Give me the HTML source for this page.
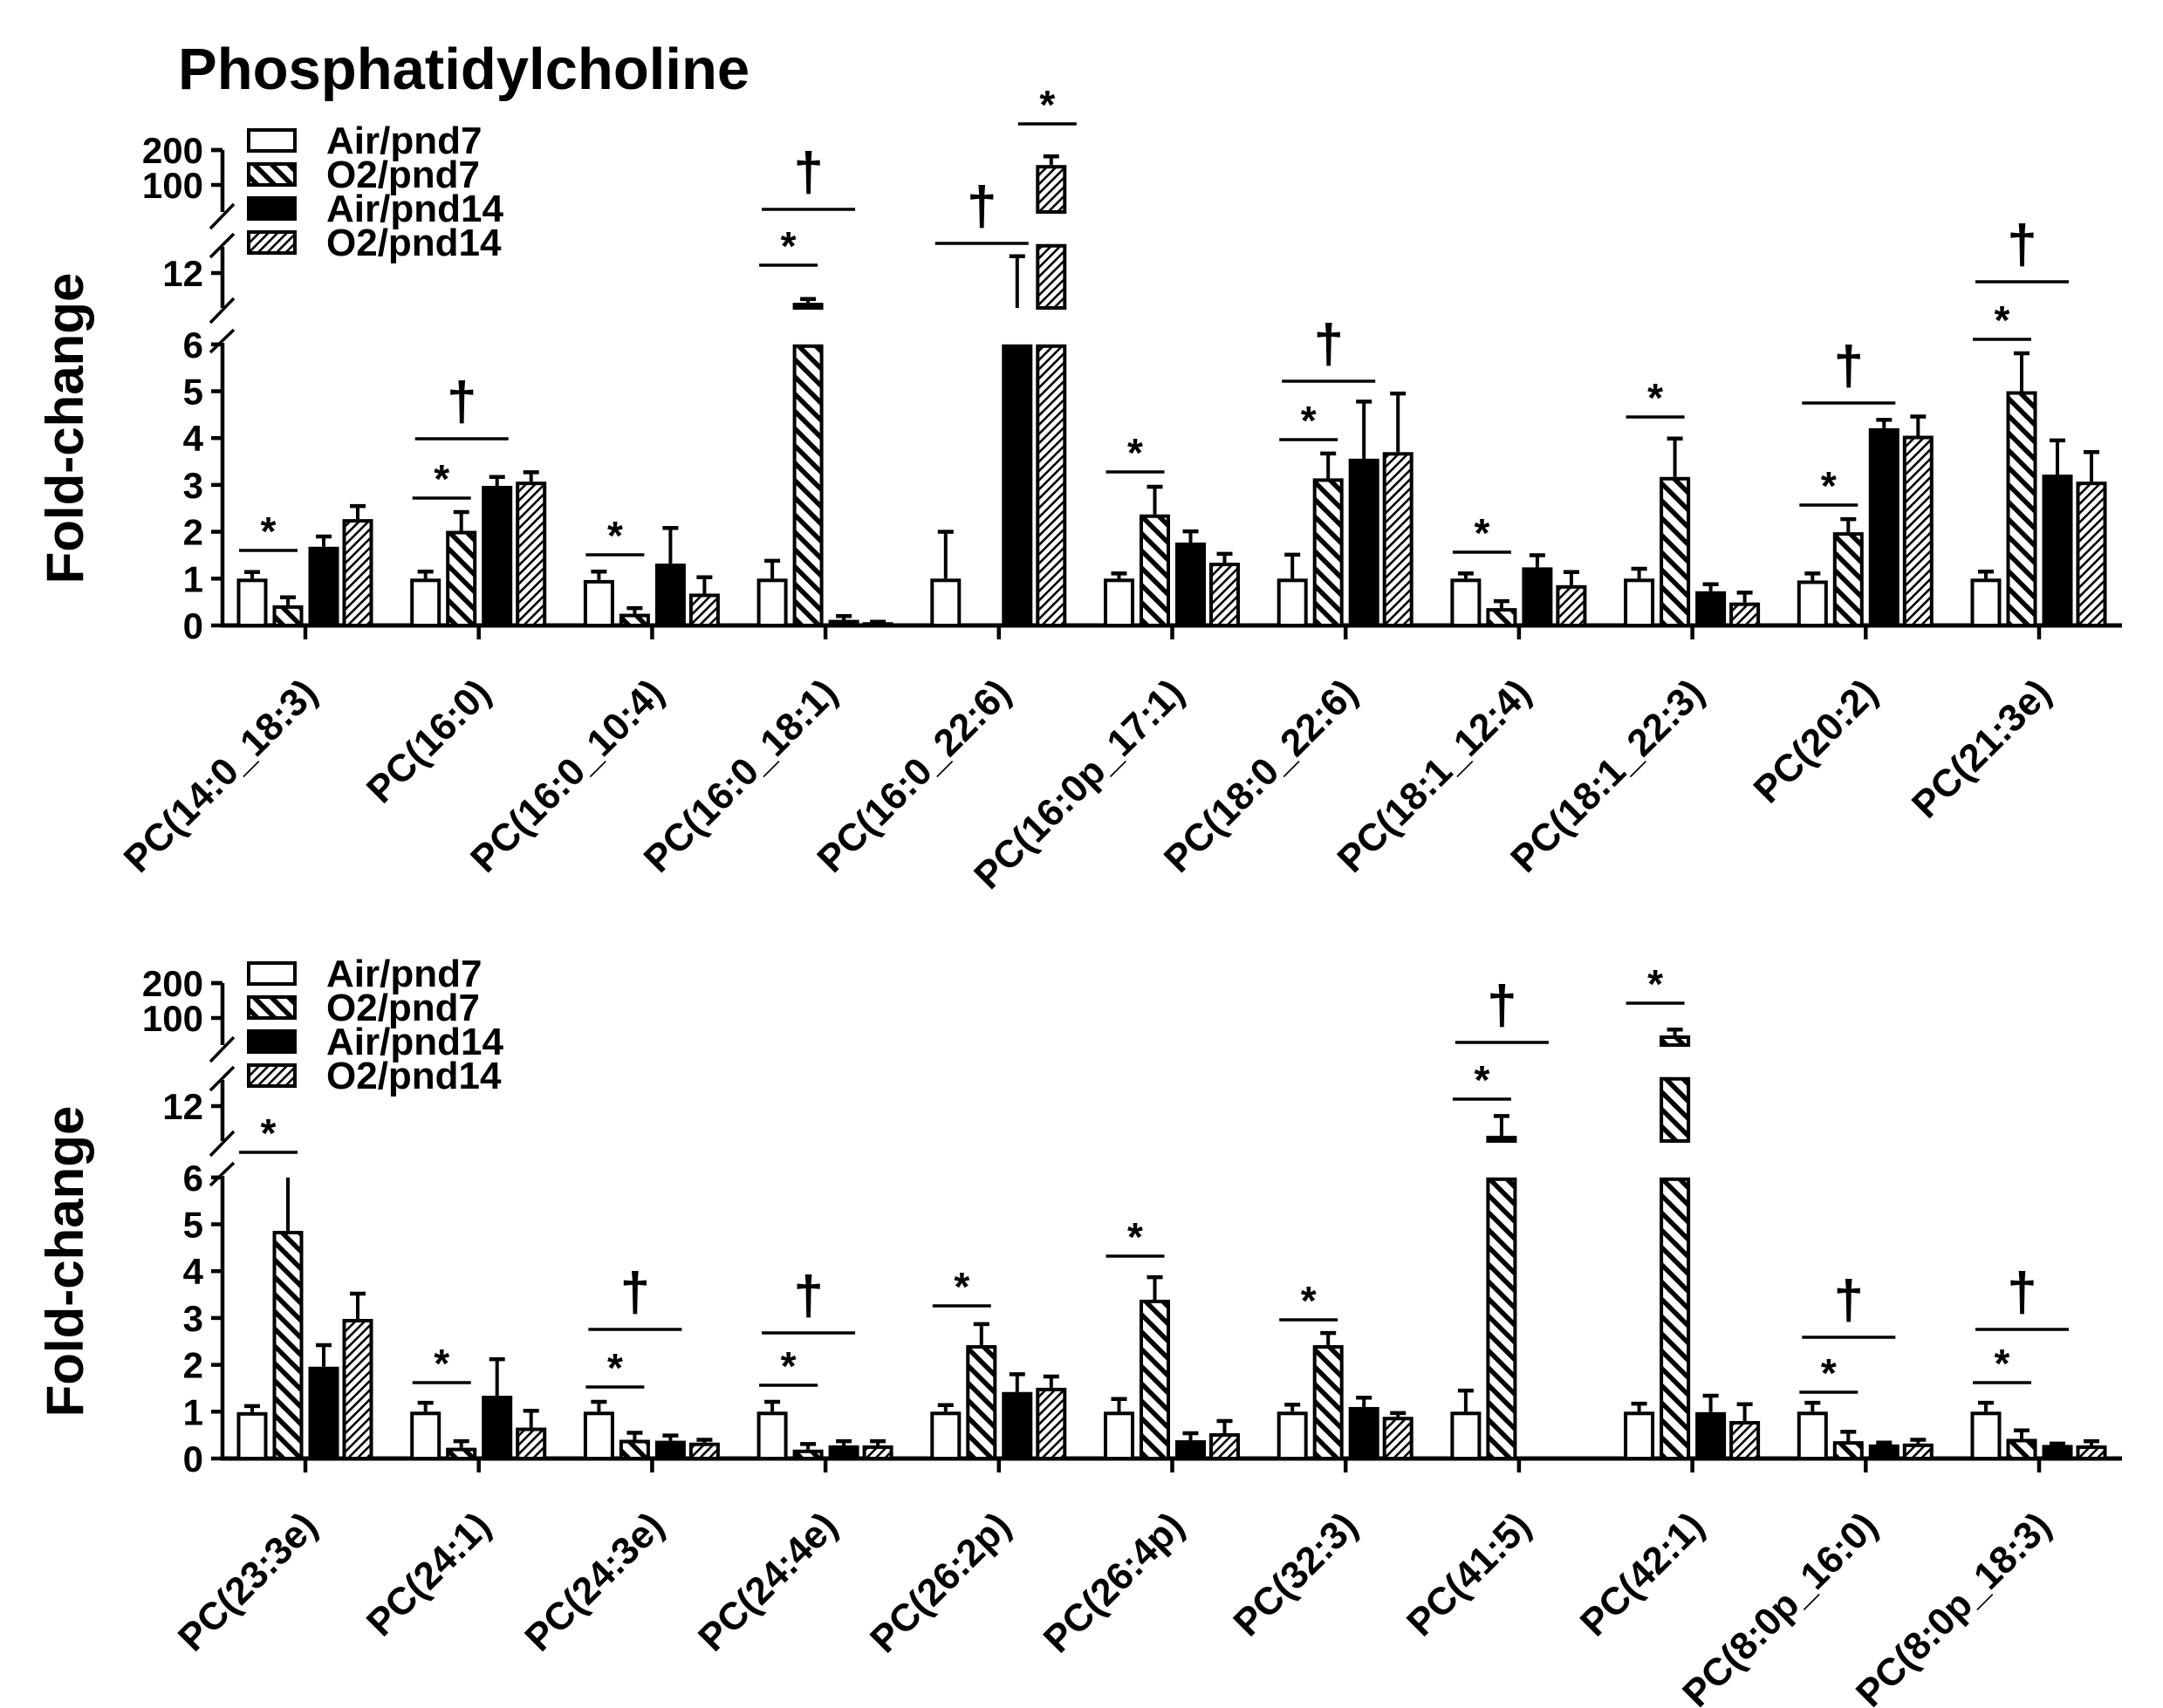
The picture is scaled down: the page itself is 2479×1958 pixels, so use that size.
<!DOCTYPE html>
<html><head><meta charset="utf-8"><style>
html,body{margin:0;padding:0;background:#fff;}
svg{display:block;font-family:"Liberation Sans",Arial,sans-serif;font-weight:bold;}
</style></head><body>
<svg id="chart" width="2479" height="1958" viewBox="0 0 2479 1958" xmlns="http://www.w3.org/2000/svg">
<defs>
<pattern id="wide" patternUnits="userSpaceOnUse" width="14" height="14" patternTransform="rotate(-45)"><rect width="14" height="14" fill="#fff"/><rect x="0" y="0" width="5.5" height="14" fill="#000"/></pattern>
<pattern id="thin" patternUnits="userSpaceOnUse" width="7.5" height="7.5" patternTransform="rotate(45)"><rect width="7.5" height="7.5" fill="#fff"/><rect x="0" y="0" width="2.6" height="7.5" fill="#000"/></pattern>
</defs>
<text x="204" y="102" font-size="67">Phosphatidylcholine</text>
<g id="p1"></g>
<g id="p2" transform="translate(0,955)"></g>
</svg>
<script>
const series = ['Air/pnd7','O2/pnd7','Air/pnd14','O2/pnd14'];
const cats1 = ['PC(14:0_18:3)','PC(16:0)','PC(16:0_10:4)','PC(16:0_18:1)','PC(16:0_22:6)','PC(16:0p_17:1)','PC(18:0_22:6)','PC(18:1_12:4)','PC(18:1_22:3)','PC(20:2)','PC(21:3e)'];
const airPnd7_1 = [1.0,1.0,0.97,1.0,1.0,1.0,1.0,1.0,1.0,0.96,1.0];
const airPnd7Err_1 = [1.14,1.15,1.15,1.38,2.0,1.11,1.51,1.11,1.21,1.11,1.15];
const o2Pnd7_1 = [0.43,2.02,0.25,8.1,0,2.37,3.14,0.37,3.17,1.99,5.0];
const o2Pnd7Err_1 = [0.6,2.42,0.37,8.6,0,2.96,3.67,0.52,3.99,2.27,5.81];
const airPnd14_1 = [1.68,2.98,1.32,0.12,7.0,1.77,3.56,1.24,0.73,4.21,3.22];
const airPnd14Err_1 = [1.9,3.17,2.08,0.2,14.2,2.01,4.78,1.5,0.88,4.39,3.95];
const o2Pnd14_1 = [2.27,3.07,0.68,0.07,157,1.34,3.7,0.86,0.49,4.05,3.07];
const o2Pnd14Err_1 = [2.55,3.27,1.03,0.08,182,1.53,4.95,1.14,0.7,4.46,3.7];
const sig1 = [[0,'*',631],[1,'*',571],[1,'†',503],[2,'*',636],[3,'*',304],[3,'†',240],[4,'†',279],[4,'*s',142],[5,'*',541],[6,'*',504],[6,'†',437],[7,'*',633],[8,'*',478],[9,'*',579],[9,'†',462],[10,'*',389],[10,'†',323]];

const cats2 = ['PC(23:3e)','PC(24:1)','PC(24:3e)','PC(24:4e)','PC(26:2p)','PC(26:4p)','PC(32:3)','PC(41:5)','PC(42:1)','PC(8:0p_16:0)','PC(8:0p_18:3)'];
const airPnd7_2 = [0.99,1.0,1.0,1.0,1.0,1.0,1.0,1.0,1.0,1.0,1.0];
const airPnd7Err_2 = [1.12,1.19,1.21,1.21,1.14,1.27,1.15,1.45,1.17,1.19,1.19];
const o2Pnd7_2 = [4.86,0.23,0.4,0.19,2.42,3.39,2.42,8.1,50,0.37,0.42];
const o2Pnd7Err_2 = [6.05,0.37,0.55,0.31,2.87,3.87,2.68,10.7,67,0.57,0.6];
const airPnd14_2 = [1.96,1.34,0.38,0.28,1.42,0.39,1.1,0,0.99,0.3,0.29];
const airPnd14Err_2 = [2.42,2.12,0.49,0.37,1.8,0.54,1.3,0,1.34,0.34,0.32];
const o2Pnd14_2 = [2.98,0.66,0.34,0.28,1.51,0.54,0.89,0,0.8,0.32,0.28];
const o2Pnd14Err_2 = [3.52,1.02,0.4,0.37,1.75,0.8,0.97,0,1.16,0.4,0.37];
const sig2 = [[0,'*',366],[1,'*',630],[2,'*',635],[2,'†',569],[3,'*',633],[3,'†',573],[4,'*',542],[5,'*',485],[6,'*',558],[7,'*',305],[7,'†',240],[8,'*',195],[9,'*',641],[9,'†',578],[10,'*',630],[10,'†',569]];

const yTicks = [0,1,2,3,4,5,6,12,100,200];
const NS='http://www.w3.org/2000/svg';
const X0=255, XEND=2432, BASE=717, TICK0=350, STEP=198.7;
const segs=[
  {min:0,max:6,y0:717,y1:395,f:v=>717-v*53.7},
  {min:7.43,max:15.8,y0:353,y1:283,f:v=>313-(v-12)*8.75},
  {min:17.5,max:205,y0:243,y1:172,f:v=>212-(v-100)*0.4}
];
function yScale(v){for(const s of segs){if(v<=s.max&&v>=s.min)return s.f(v);}return null;}
function xCat(i){return TICK0+i*STEP;}
const barOff=[-61,-20,21,60], BW=35;
const fills=['#fff','url(#wide)','#000','url(#thin)'];

function mk(parent,tag,attrs){const e=document.createElementNS(NS,tag);for(const k in attrs)e.setAttribute(k,attrs[k]);parent.appendChild(e);return e;}

function drawPanel(g,cats,vals,errs,sig,pid){
  for(let i=0;i<4;i++){
    const ly=147+i*39;
    const r=mk(g,'rect',{x:285,y:ly+2,width:53,height:24,fill:fills[i],stroke:'#000','stroke-width':4});
    
    
    const t=mk(g,'text',{x:374,y:ly+29,'font-size':44});
    t.textContent=series[i];
    
    
  }
  const ax=mk(g,'g',{stroke:'#000','stroke-width':4.5,fill:'none'});
  
  
  mk(ax,'path',{d:`M${X0} ${BASE+2}V393 M${X0} 353V283 M${X0} 243V172 M${X0-13} 172H${X0}`});
  mk(ax,'path',{d:`M241 404L268 378 M241 370L268 342 M241 295L268 268 M241 262L268 234`,'stroke-width':3.5});
  for(const v of yTicks){
    const y=yScale(v);
    mk(ax,'line',{x1:X0-13,x2:X0,y1:y,y2:y});
    const t=mk(g,'text',{x:233,y:y+15,'font-size':42,'text-anchor':'end'});
    t.textContent=v;
    
    
  }
  const yt=mk(g,'text',{x:0,y:0,'font-size':60,'text-anchor':'middle',transform:'translate(95,491) rotate(-90)'});
  yt.textContent='Fold-change';
  
  
  const xa=mk(g,'path',{d:`M${X0-2} ${BASE}H${XEND}`,stroke:'#000','stroke-width':5});
  
  
  cats.forEach((c,i)=>{
    const x=xCat(i);
    mk(g,'line',{x1:x,x2:x,y1:BASE,y2:BASE+16,stroke:'#000','stroke-width':4.5});
    const t=mk(g,'text',{x:0,y:0,'font-size':44,'text-anchor':'end',transform:`translate(${x+16},${BASE+80}) rotate(-45)`});
    t.textContent=c;
    
    
  });
  cats.forEach((c,i)=>{
    for(let s=0;s<4;s++){
      const v=vals[s][i], e=errs[s][i];
      if(v<=0&&e<=0)continue;
      const cx=xCat(i)+barOff[s];
      for(const sg of segs){
        if(v>sg.min){
          const top=sg.f(Math.min(v,sg.max)); const bot=sg.y0;
          const r=mk(g,'rect',{x:cx-BW/2+2,y:top+2,width:BW-4,height:Math.max(0,bot-top-2),fill:fills[s],stroke:'#000','stroke-width':4});
          
          
        }
        if(e>sg.min && e>v){
          const from = v>sg.min ? sg.f(Math.min(v,sg.max)) : sg.y0;
          if(v>=sg.max)continue;
          const clipped=e>sg.max;
          const to=sg.f(Math.min(e,sg.max));
          const l=mk(g,'line',{x1:cx,x2:cx,y1:from,y2:to,stroke:'#000','stroke-width':4});
          
          
          if(!clipped){mk(g,'line',{x1:cx-9,x2:cx+9,y1:to,y2:to,stroke:'#000','stroke-width':4.5});}
        }
      }
    }
  });
  sig.forEach(([gi,type,y])=>{
    const x=xCat(gi);
    let x1,x2;
    if(type==='*'){x1=x-76;x2=x-9;} else if(type==='*s'){x1=x+22;x2=x+89;} else {x1=x-73;x2=x+34;}
    const l=mk(g,'line',{x1:x1,x2:x2,y1:y,y2:y,stroke:'#000','stroke-width':3.5});
    
    
    const t=mk(g,'text',{x:(x1+x2)/2,y:type==='†'?y-22:y-6,'font-size':type==='†'?62:46,'text-anchor':'middle'});
    t.textContent=type==='†'?'†':'*';
    
    
  });
}
drawPanel(document.getElementById('p1'),cats1,[airPnd7_1,o2Pnd7_1,airPnd14_1,o2Pnd14_1],[airPnd7Err_1,o2Pnd7Err_1,airPnd14Err_1,o2Pnd14Err_1],sig1,'top');
drawPanel(document.getElementById('p2'),cats2,[airPnd7_2,o2Pnd7_2,airPnd14_2,o2Pnd14_2],[airPnd7Err_2,o2Pnd7Err_2,airPnd14Err_2,o2Pnd14Err_2],sig2,'bottom');
</script>
</body></html>
